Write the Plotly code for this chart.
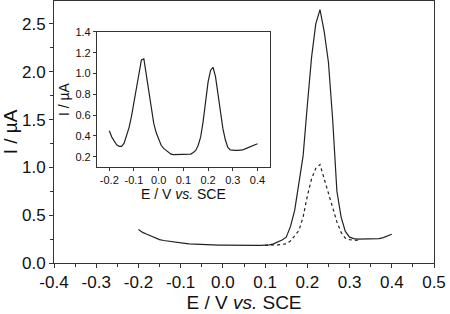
import plotly.graph_objects as go

# Main chart: solid curve (E from -0.20 to 0.40 V, step 0.01)
E_main = [round(-0.20 + 0.01 * i, 2) for i in range(61)]
I_solid = [0.35, 0.32, 0.30, 0.28, 0.26, 0.245, 0.235, 0.228, 0.22, 0.215,
           0.21, 0.205, 0.20, 0.197, 0.194, 0.192, 0.19, 0.189, 0.188, 0.187,
           0.186, 0.185, 0.185, 0.185, 0.185, 0.185, 0.185, 0.185, 0.185, 0.185,
           0.185, 0.19, 0.20, 0.22, 0.24, 0.27, 0.38, 0.55, 0.82, 1.12,
           1.65, 2.15, 2.50, 2.65, 2.42, 2.10, 1.50, 0.75, 0.48, 0.33,
           0.27, 0.255, 0.25, 0.252, 0.252, 0.252, 0.252, 0.255, 0.265, 0.28, 0.30]

# Main chart: dashed curve (E from 0.10 to 0.32 V)
E_dash = [round(0.10 + 0.01 * i, 2) for i in range(23)]
I_dash = [0.185, 0.185, 0.19, 0.19, 0.195, 0.20, 0.23, 0.29, 0.34, 0.48,
          0.70, 0.88, 0.99, 1.03, 0.88, 0.72, 0.57, 0.43, 0.32, 0.26,
          0.243, 0.238, 0.236]

# Inset curve
E_inset = [round(-0.20 + 0.01 * i, 2) for i in range(61)]
I_inset = [0.45, 0.39, 0.35, 0.315, 0.30, 0.30, 0.33, 0.40, 0.48, 0.59,
           0.72, 0.87, 1.02, 1.13, 1.14, 0.98, 0.82, 0.65, 0.52, 0.43,
           0.37, 0.31, 0.28, 0.26, 0.24, 0.225, 0.22, 0.22, 0.22, 0.22,
           0.22, 0.22, 0.22, 0.225, 0.24, 0.26, 0.31, 0.39, 0.54, 0.73,
           0.92, 1.03, 1.06, 0.97, 0.81, 0.64, 0.47, 0.36, 0.29, 0.265,
           0.26, 0.26, 0.26, 0.26, 0.265, 0.275, 0.285, 0.295, 0.305, 0.315, 0.325]

# Tick values / labels
main_x_ticks = [-0.4, -0.3, -0.2, -0.1, 0.0, 0.1, 0.2, 0.3, 0.4, 0.5]
main_x_labels = ["-0.4", "-0.3", "-0.2", "-0.1", "0.0", "0.1", "0.2", "0.3", "0.4", "0.5"]
inset_x_ticks = [-0.2, -0.1, 0.0, 0.1, 0.2, 0.3, 0.4]
inset_x_labels = ["-0.2", "-0.1", "0.0", "0.1", "0.2", "0.3", "0.4"]

FONT = "Liberation Sans, Arial, sans-serif"
AX = "#333333"

fig = go.Figure()
fig.add_trace(go.Scatter(x=E_main, y=I_solid, mode="lines", line=dict(color="#222", width=1.2),
                         xaxis="x", yaxis="y", showlegend=False))
fig.add_trace(go.Scatter(x=E_dash, y=I_dash, mode="lines", line=dict(color="#222", width=1.2, dash="3px,3px"),
                         xaxis="x", yaxis="y", showlegend=False))
fig.add_trace(go.Scatter(x=E_inset, y=I_inset, mode="lines", line=dict(color="#222", width=1.2),
                         xaxis="x2", yaxis="y2", showlegend=False))

fig.update_layout(
    width=450, height=314,
    margin=dict(l=54, r=16, t=1, b=51, autoexpand=False),
    paper_bgcolor="white", plot_bgcolor="white",
    font=dict(family=FONT, color="#111"),
    xaxis=dict(range=[-0.4, 0.5], tickvals=main_x_ticks, ticktext=main_x_labels,
               showgrid=False, zeroline=False,
               showline=True, mirror=True, linecolor=AX, linewidth=1, automargin=False,
               ticks="outside", ticklen=4, tickcolor=AX, tickfont=dict(size=17),
               minor=dict(dtick=0.05, ticks="outside", ticklen=3, tickcolor=AX),
               title=dict(text="E / V <i>vs.</i> SCE", font=dict(size=19), standoff=4),
               domain=[0, 1]),
    yaxis=dict(range=[0, 2.74], dtick=0.5, tickformat=".1f", showgrid=False, zeroline=False,
               showline=True, mirror=True, linecolor=AX, linewidth=1, automargin=False,
               ticks="outside", ticklen=4, tickcolor=AX, tickfont=dict(size=17),
               minor=dict(dtick=0.25, ticks="outside", ticklen=3, tickcolor=AX),
               title=dict(text="I / µA", font=dict(size=19), standoff=2),
               domain=[0, 1]),
    xaxis2=dict(range=[-0.25, 0.45], tickvals=inset_x_ticks, ticktext=inset_x_labels,
                showgrid=False, zeroline=False,
                showline=True, mirror=True, linecolor=AX, linewidth=1, automargin=False,
                ticks="outside", ticklen=3, tickcolor=AX, tickfont=dict(size=11),
                title=dict(text="E / V <i>vs.</i> SCE", font=dict(size=14), standoff=2),
                domain=[0.113, 0.568], anchor="y2"),
    yaxis2=dict(range=[0.1, 1.4], dtick=0.2, tickformat=".1f", showgrid=False, zeroline=False,
                showline=True, mirror=True, linecolor=AX, linewidth=1, automargin=False,
                ticks="outside", ticklen=3, tickcolor=AX, tickfont=dict(size=11),
                title=dict(text="I / µA", font=dict(size=14), standoff=2),
                domain=[0.366, 0.882], anchor="x2"),
)

fig.write_html("out.html", config={"displayModeBar": False},
               post_script="document.body.style.margin='0';document.body.style.overflow='hidden';")
